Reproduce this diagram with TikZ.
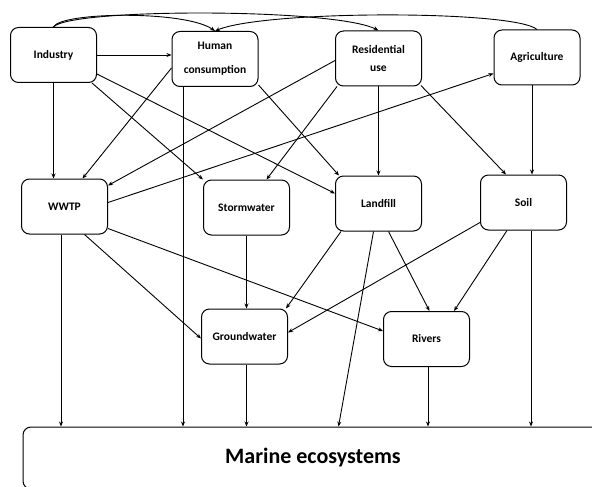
\documentclass[tikz,border=0pt]{standalone}
\usepackage{fontspec}
\setmainfont{Carlito}
\usetikzlibrary{calc,arrows.meta}
\begin{document}
\begin{tikzpicture}[x=1pt,y=-1pt,
  box/.style={draw, line width=1pt, rounded corners=8pt, minimum width=86pt, minimum height=55pt,
    inner sep=0pt, align=center, font=\fontsize{11.5}{13}\selectfont\bfseries},
  arr/.style={-{Stealth[length=5pt,width=4pt]}, line width=0.9pt},
]
\useasboundingbox (0,0) rectangle (592,487);
\clip (0,0) rectangle (592,487);

\node[box] (Industry) at (53.5,55) {Industry};
\node[box] (HC) at (215,59) {Human\\[11pt]consumption};
\node[box] (Residential) at (378.5,58.5) {Residential\\[5pt]use};
\node[box] (Agriculture) at (537,57.5) {Agriculture};
\node[box] (WWTP) at (64.5,206.5) {WWTP};
\node[box] (Stormwater) at (246.5,207.5) {Stormwater};
\node[box] (Landfill) at (378.5,203.5) {Landfill};
\node[box] (Soil) at (523.5,202.5) {Soil};
\node[box] (Groundwater) at (244.5,336.5) {Groundwater};
\node[box] (Rivers) at (426.5,339) {Rivers};
\node[draw, line width=1pt, rounded corners=8pt, minimum width=580pt, minimum height=62pt,
  inner sep=0pt, font=\fontsize{22}{24}\selectfont\bfseries] (marine) at (313,458) {\raisebox{-3pt}{Marine ecosystems}};

% top curves
\draw[arr] (Industry.north) .. controls (60,12) and (185,10) .. (HC.north);
\draw[arr] (Industry.north) .. controls (70,8) and (335,8) .. (Residential.north);
\draw[arr] (Agriculture.north) .. controls (515,10) and (265,10) .. (HC.north);

% from Industry
\draw[arr] (Industry.east) -- (Industry.east -| HC.west);
\draw[arr] (Industry.south) -- (Industry.south |- WWTP.north);
\draw[arr] ($(Industry.south east)+(-5,0)$) -- (Stormwater.north west);
\draw[arr] ($(Industry.east)+(0,19)$) -- ($(Landfill.west)+(0,-10)$);

% from Human consumption
\draw[arr] ($(HC.west)+(0,9)$) -- ($(WWTP.north)+(18,0)$);
\draw[arr] ($(HC.south east)+(0,-2)$) -- ($(Landfill.north west)+(4,0)$);
\draw[arr] ($(HC.south)+(-32,0)$) coordinate (hcs) -- (hcs |- marine.north);

% from Residential use
\draw[arr] ($(Residential.west)+(0,2)$) -- ($(WWTP.east)+(0,-21)$);
\draw[arr] ($(Residential.south west)+(2,0)$) -- ($(Stormwater.north)+(20,0)$);
\draw[arr] (Residential.south) -- (Landfill.north);
\draw[arr] ($(Residential.south east)+(-1,-1)$) -- ($(Soil.north west)+(26,0)$);

% from Agriculture
\draw[arr] ($(Agriculture.south)+(-5,0)$) coordinate (ags) -- (ags |- Soil.north);

% from WWTP
\draw[arr] ($(WWTP.east)+(0,-4)$) -- ($(Agriculture.west)+(0,16)$);
\draw[arr] ($(WWTP.south)+(-3.5,0)$) coordinate (ws) -- (ws |- marine.north);
\draw[arr] ($(WWTP.south)+(20,0)$) -- ($(Groundwater.west)+(0,2)$);
\draw[arr] ($(WWTP.east)+(0,22)$) -- ($(Rivers.west)+(0,-8)$);

% from Stormwater
\draw[arr] (Stormwater.south) -- (Stormwater.south |- Groundwater.north);

% from Landfill
\draw[arr] ($(Landfill.south west)+(6,0)$) -- ($(Groundwater.north east)+(-2,0)$);
\draw[arr] ($(Landfill.south)+(-5,0)$) -- ($(marine.north west)+(316,0)$);
\draw[arr] ($(Landfill.south)+(10,0)$) -- ($(Rivers.north)+(3,0)$);

% from Soil
\draw[arr] ($(Soil.west)+(0,20)$) -- ($(Groundwater.east)+(0,-4)$);
\draw[arr] ($(Soil.south west)+(27,0)$) -- ($(Rivers.north east)+(-16,0)$);
\draw[arr] ($(Soil.south)+(7.5,0)$) coordinate (ss) -- (ss |- marine.north);

% to Marine
\draw[arr] ($(Groundwater.south)+(2,0)$) coordinate (gs) -- (gs |- marine.north);
\draw[arr] ($(Rivers.south)+(1.5,0)$) coordinate (rs) -- (rs |- marine.north);
\end{tikzpicture}
\end{document}
